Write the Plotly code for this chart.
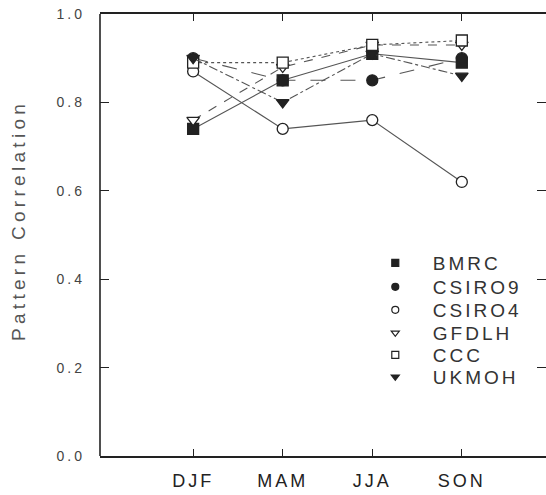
import plotly.graph_objects as go

seasons = ["DJF", "MAM", "JJA", "SON"]
models = ["BMRC", "CSIRO9", "CSIRO4", "GFDLH", "CCC", "UKMOH"]
bmrc = [0.74, 0.85, 0.91, 0.89]
csiro9 = [0.90, 0.85, 0.85, 0.90]
csiro4 = [0.87, 0.74, 0.76, 0.62]
gfdlh = [0.76, 0.88, 0.93, 0.93]
ccc = [0.89, 0.89, 0.93, 0.94]
ukmoh = [0.90, 0.80, 0.91, 0.86]
series = [bmrc, csiro9, csiro4, gfdlh, ccc, ukmoh]
ytick_vals = [0.0, 0.2, 0.4, 0.6, 0.8, 1.0]
ytick_text = ["0.0", "0.2", "0.4", "0.6", "0.8", "1.0"]

symbols = ["square", "circle", "circle", "triangle-down", "square", "triangle-down"]
fills = ["#222", "#222", "white", "white", "white", "#222"]
dashes = ["solid", "longdash", "solid", "dash", "dot", "dashdot"]

FONT = "Liberation Sans, Arial, sans-serif"


def sp(s, ls):
    return f'<span style="letter-spacing:{ls}px">{s}</span>'


fig = go.Figure()
for name, vals, sym, fill, dash in zip(models, series, symbols, fills, dashes):
    fig.add_trace(go.Scatter(
        x=seasons, y=vals, mode="lines+markers", name=name, showlegend=False,
        line=dict(color="#555", width=1.1, dash=dash),
        marker=dict(symbol=sym, size=11, color=fill, line=dict(color="#222", width=1.3)),
    ))

row_px = [263, 287, 310, 333, 355, 377]
legends = {}
for i, (name, sym, fill) in enumerate(zip(models, symbols, fills)):
    key = "legend" if i == 0 else f"legend{i+1}"
    fig.add_trace(go.Scatter(
        x=[None], y=[None], mode="markers", name=sp(name, 3), legend=key,
        marker=dict(symbol=sym, size=7, color=fill, line=dict(color="#222", width=1.2)),
    ))
    legends[key] = dict(
        x=0.578, y=(456 - row_px[i]) / 442, xanchor="left", yanchor="middle",
        bgcolor="rgba(0,0,0,0)", borderwidth=0, itemwidth=65,
        font=dict(family=FONT, size=19, color="#333"),
    )

fig.update_layout(
    width=546, height=495,
    margin=dict(l=100, r=0, t=14, b=39),
    plot_bgcolor="white", paper_bgcolor="white",
    **legends,
    xaxis=dict(
        range=[-1.04, 3.94], tickvals=seasons, ticktext=[sp(s, 3) for s in seasons],
        ticks="inside", ticklen=7, tickwidth=1.3, tickcolor="#222",
        showline=True, linecolor="#222", linewidth=1.6, mirror="ticks",
        showgrid=False, zeroline=False, ticklabelstandoff=8,
        tickfont=dict(family=FONT, size=18, color="#222"),
    ),
    yaxis=dict(
        range=[0, 1.0], tickvals=ytick_vals, ticktext=[sp(t, 3) for t in ytick_text],
        ticks="inside", ticklen=9, tickwidth=1.3, tickcolor="#222",
        showline=False, mirror="ticks",
        showgrid=False, zeroline=False, ticklabelstandoff=14,
        tickfont=dict(family=FONT, size=14, color="#444"),
    ),
    shapes=[dict(type="line", xref="paper", yref="paper", x0=0, x1=0, y0=0, y1=1,
                 line=dict(color="#222", width=1.6))],
    annotations=[dict(
        text=sp("Pattern Correlation", 4.3), textangle=-90, xref="paper", yref="paper",
        x=(18 - 100) / 446, y=(456 - 221) / 442, xanchor="center", yanchor="middle",
        showarrow=False, font=dict(family=FONT, size=19, color="#555"),
    )],
)

fig.write_html("out.html")
